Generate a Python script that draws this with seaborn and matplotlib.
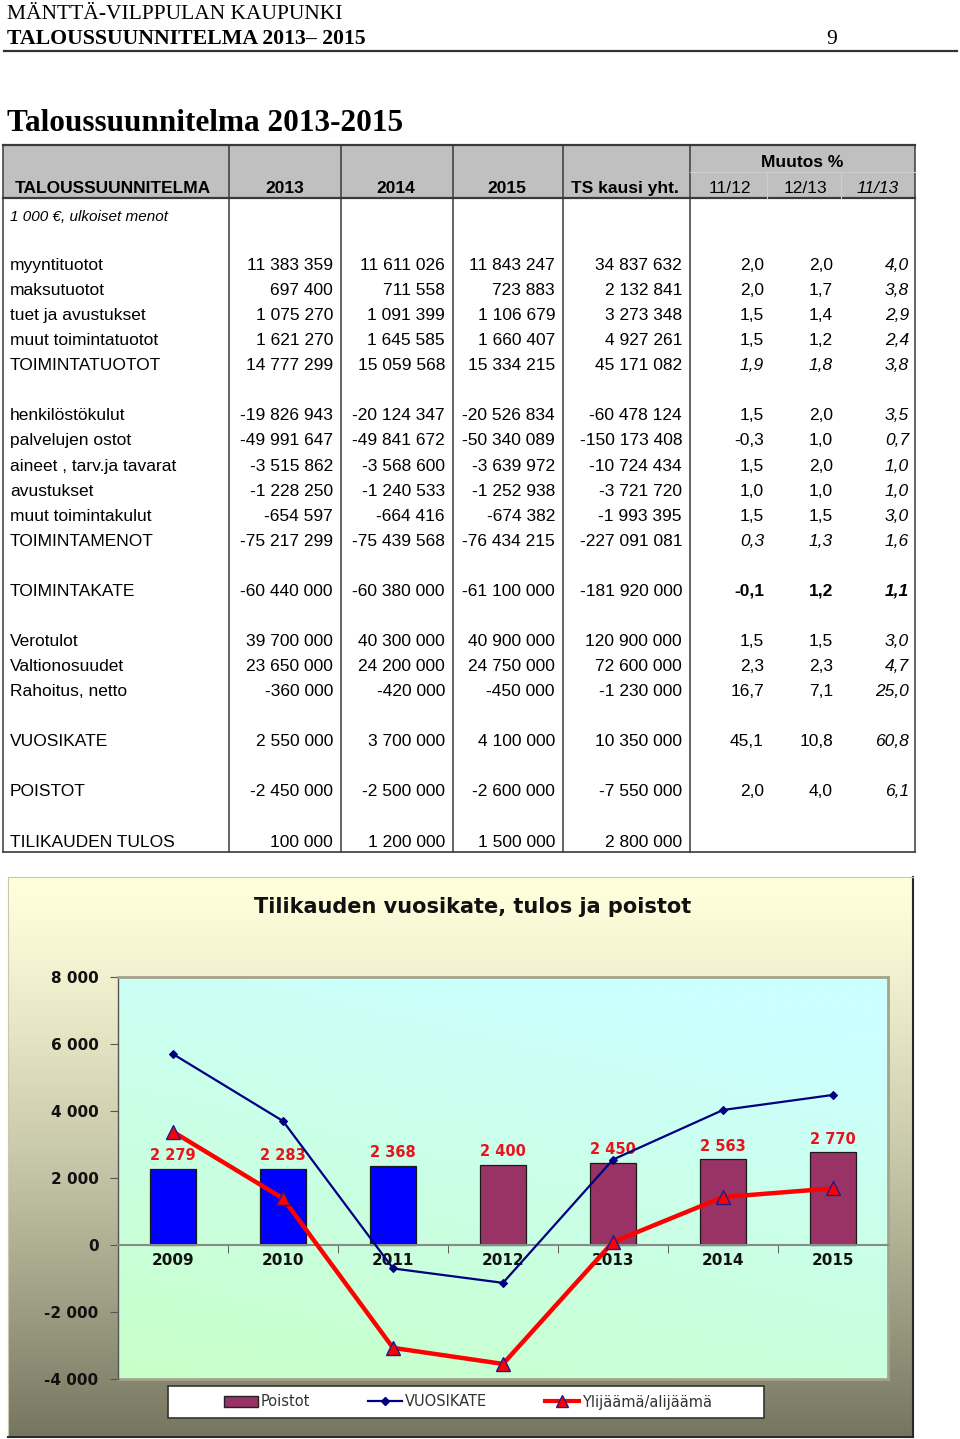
import numpy as np
import matplotlib
matplotlib.use("Agg")
import matplotlib.pyplot as plt
from matplotlib.lines import Line2D
from matplotlib.patches import Rectangle, Patch
import seaborn as sns

W, H = 960, 1439

# chart data (1 000 €)
years = ["2009", "2010", "2011", "2012", "2013", "2014", "2015"]
poistot = [2279, 2283, 2368, 2400, 2450, 2563, 2770]
vuosikate = [5700, 3700, -700, -1130, 2550, 4030, 4480]
tulos = [3380, 1390, -3070, -3550, 90, 1430, 1690]
y_ticks = [-4000, -2000, 0, 2000, 4000, 6000, 8000]
series_names = ["Poistot", "VUOSIKATE", "Ylijäämä/alijäämä"]

# table data, "" = empty row
row_labels = ["myyntituotot", "maksutuotot", "tuet ja avustukset", "muut toimintatuotot",
              "TOIMINTATUOTOT", "",
              "henkilöstökulut", "palvelujen ostot", "aineet , tarv.ja tavarat", "avustukset",
              "muut toimintakulut", "TOIMINTAMENOT", "",
              "TOIMINTAKATE", "",
              "Verotulot", "Valtionosuudet", "Rahoitus, netto", "",
              "VUOSIKATE", "", "POISTOT", "", "TILIKAUDEN TULOS"]
col_2013 = ["11 383 359", "697 400", "1 075 270", "1 621 270", "14 777 299", "",
            "-19 826 943", "-49 991 647", "-3 515 862", "-1 228 250", "-654 597", "-75 217 299", "",
            "-60 440 000", "", "39 700 000", "23 650 000", "-360 000", "",
            "2 550 000", "", "-2 450 000", "", "100 000"]
col_2014 = ["11 611 026", "711 558", "1 091 399", "1 645 585", "15 059 568", "",
            "-20 124 347", "-49 841 672", "-3 568 600", "-1 240 533", "-664 416", "-75 439 568", "",
            "-60 380 000", "", "40 300 000", "24 200 000", "-420 000", "",
            "3 700 000", "", "-2 500 000", "", "1 200 000"]
col_2015 = ["11 843 247", "723 883", "1 106 679", "1 660 407", "15 334 215", "",
            "-20 526 834", "-50 340 089", "-3 639 972", "-1 252 938", "-674 382", "-76 434 215", "",
            "-61 100 000", "", "40 900 000", "24 750 000", "-450 000", "",
            "4 100 000", "", "-2 600 000", "", "1 500 000"]
col_ts = ["34 837 632", "2 132 841", "3 273 348", "4 927 261", "45 171 082", "",
          "-60 478 124", "-150 173 408", "-10 724 434", "-3 721 720", "-1 993 395", "-227 091 081", "",
          "-181 920 000", "", "120 900 000", "72 600 000", "-1 230 000", "",
          "10 350 000", "", "-7 550 000", "", "2 800 000"]
chg_1112 = ["2,0", "2,0", "1,5", "1,5", "1,9", "",
            "1,5", "-0,3", "1,5", "1,0", "1,5", "0,3", "",
            "-0,1", "", "1,5", "2,3", "16,7", "", "45,1", "", "2,0", "", ""]
chg_1213 = ["2,0", "1,7", "1,4", "1,2", "1,8", "",
            "2,0", "1,0", "2,0", "1,0", "1,5", "1,3", "",
            "1,2", "", "1,5", "2,3", "7,1", "", "10,8", "", "4,0", "", ""]
chg_1113 = ["4,0", "3,8", "2,9", "2,4", "3,8", "",
            "3,5", "0,7", "1,0", "1,0", "3,0", "1,6", "",
            "1,1", "", "3,0", "4,7", "25,0", "", "60,8", "", "6,1", "", ""]
total_rows = ["TOIMINTATUOTOT", "TOIMINTAMENOT"]
bold_rows = ["TOIMINTAKATE"]

fig = plt.figure(figsize=(W / 100, H / 100), dpi=100)
fig.patch.set_facecolor("white")

SANS = "Liberation Sans"
SERIF = "Liberation Serif"


def put(x, y, s, **kw):
    fig.text(x / W, 1 - y / H, s, **kw)


def line(x0, y0, x1, y1, **kw):
    fig.add_artist(Line2D([x0 / W, x1 / W], [1 - y0 / H, 1 - y1 / H],
                          transform=fig.transFigure, **kw))


# page header
put(7, 19, "MÄNTTÄ-VILPPULAN KAUPUNKI", family=SERIF, fontsize=15.5, va="baseline")
put(7, 44, "TALOUSSUUNNITELMA 2013– 2015", family=SERIF, fontsize=15.7,
    fontweight="bold", va="baseline")
put(832, 44, "9", family=SERIF, fontsize=15.5, ha="center", va="baseline")
line(4, 51, 957, 51, color="#333333", lw=1.6)
put(7, 131, "Taloussuunnitelma 2013-2015", family=SERIF, fontsize=22.5,
    fontweight="bold", va="baseline")

# table frame
fig.add_artist(Rectangle((3 / W, 1 - 198 / H), 912 / W, 53 / H, transform=fig.transFigure,
                         facecolor="#c0c0c0", edgecolor="none"))
tc = "#3a3a3a"
line(3, 145, 915, 145, color=tc, lw=1.6)
line(3, 198, 915, 198, color=tc, lw=1.6)
line(3, 852, 915, 852, color=tc, lw=1.2)
for xv in [3, 229, 341, 453, 563, 690, 915]:
    line(xv, 145, xv, 852, color=tc, lw=1.1)
line(690, 172, 915, 172, color="#cdcdcd", lw=0.8)
for xv in [767, 841]:
    line(xv, 172, xv, 198, color="#cdcdcd", lw=0.8)

hk = dict(family=SANS, fontsize=12.5, va="baseline")
put(802, 167, "Muutos %", ha="center", fontweight="bold", **hk)
put(15, 193, "TALOUSSUUNNITELMA", ha="left", fontweight="bold", **hk)
for xc, s in [(285, "2013"), (396, "2014"), (507, "2015"), (625, "TS kausi yht.")]:
    put(xc, 193, s, ha="center", fontweight="bold", **hk)
put(730, 193, "11/12", ha="center", **hk)
put(805, 193, "12/13", ha="center", **hk)
put(878, 193, "11/13", ha="center", style="italic", **hk)
put(10, 221, "1 000 €, ulkoiset menot", family=SANS, fontsize=11, style="italic",
    va="baseline")

num_cols = [(333, col_2013), (445, col_2014), (555, col_2015), (682, col_ts),
            (764, chg_1112), (833, chg_1213), (909, chg_1113)]
for k, lab in enumerate(row_labels):
    if not lab:
        continue
    yb = 270 + 25.07 * k
    put(10, yb, lab, family=SANS, fontsize=12.5, va="baseline")
    for ci, (xr, col) in enumerate(num_cols):
        style, weight = "normal", "normal"
        if ci == 6 or (ci >= 4 and lab in total_rows):
            style = "italic"
        if ci >= 4 and lab in bold_rows:
            weight = "bold"
        put(xr, yb, col[k], family=SANS, fontsize=12.5, ha="right", va="baseline",
            style=style, fontweight=weight)

# chart panel with gradient
px0, py0, px1, py1 = 8, 877, 913, 1437
ax_panel = fig.add_axes([px0 / W, 1 - py1 / H, (px1 - px0) / W, (py1 - py0) / H], zorder=0)
t = np.linspace(0, 1, 200)[:, None] ** 1.3
top_c = np.array([255, 255, 220]) / 255
bot_c = np.array([118, 118, 96]) / 255
grad = (top_c * (1 - t) + bot_c * t)[:, None, :].repeat(2, axis=1)
ax_panel.imshow(grad, aspect="auto", extent=[0, 1, 0, 1], interpolation="bilinear")
ax_panel.set_xticks([])
ax_panel.set_yticks([])
for side in ["left", "top"]:
    ax_panel.spines[side].set_color("#c8c8b0")
for side in ["right", "bottom"]:
    ax_panel.spines[side].set_color("#2a2a2a")
    ax_panel.spines[side].set_linewidth(1.5)

rect_plot = [118 / W, 1 - 1379 / H, 770 / W, 402 / H]
ax_bg = fig.add_axes(rect_plot, zorder=1)
gy, gx = np.mgrid[0:1:100j, 0:1:100j]
tt = np.clip(0.8 * gy + 0.35 * gx, 0, 1)[..., None]
green = np.array([200, 255, 200]) / 255
cyan = np.array([204, 255, 255]) / 255
ax_bg.imshow(green * (1 - tt) + cyan * tt, aspect="auto", extent=[0, 1, 0, 1],
             origin="lower", interpolation="bilinear")
ax_bg.axis("off")

ax = fig.add_axes(rect_plot, zorder=2)
ax.set_facecolor("none")

bar_colors = {"2009": "#0000ff", "2010": "#0000ff", "2011": "#0000ff",
              "2012": "#993366", "2013": "#993366", "2014": "#993366", "2015": "#993366"}
sns.barplot(x=years, y=poistot, hue=years, palette=bar_colors, legend=False, width=0.41,
            edgecolor="#1a1a1a", linewidth=0.9, saturation=1, ax=ax, zorder=2)
for cont, v in zip(ax.containers, poistot):
    ax.bar_label(cont, labels=[f"{v:,}".replace(",", " ")], padding=4, color="#e8141c",
                 fontsize=10.5, fontweight="bold", family="DejaVu Sans")

sns.pointplot(x=years, y=vuosikate, color="#000080", markers="D", errorbar=None,
              linewidth=1.6, markersize=4.5, markeredgewidth=0.8, ax=ax, zorder=4)
sns.pointplot(x=years, y=tulos, color="#ff0000", markers="^", errorbar=None,
              linewidth=3.2, markersize=10, markeredgecolor="#1c1c8c",
              markeredgewidth=1.0, ax=ax, zorder=5)

ax.set_xlim(-0.5, 6.5)
ax.set_ylim(-4000, 8000)
ax.set_yticks(y_ticks)
ax.set_yticklabels([f"{v:,}".replace(",", " ") for v in y_ticks])
ax.set_xlabel("")
ax.set_ylabel("")
ax.spines["bottom"].set_position(("data", 0))
ax.spines["bottom"].set_color("#8a8a8a")
ax.spines["bottom"].set_linewidth(1.5)
ax.spines["left"].set_color("#555555")
ax.spines["left"].set_linewidth(1.0)
for side in ["top", "right"]:
    ax.spines[side].set_color("#a4a48c")
    ax.spines[side].set_linewidth(2)
ax.axhline(-4000, color="#a4a48c", lw=2, zorder=1, clip_on=False)
ax.set_xticks(np.arange(0.5, 6, 1), minor=True)
ax.tick_params(axis="x", which="major", length=0, pad=6)
ax.tick_params(axis="x", which="minor", length=6, direction="out", color="#444444")
ax.tick_params(axis="y", length=6, direction="out", color="#555555", pad=8)
for lab in ax.get_xticklabels() + ax.get_yticklabels():
    lab.set_fontweight("bold")
    lab.set_fontsize(11)
    lab.set_color("#111111")
    lab.set_family("DejaVu Sans")

put(473, 907, "Tilikauden vuosikate, tulos ja poistot", family="DejaVu Sans",
    fontsize=15, fontweight="bold", ha="center", va="center", color="#111111")

# legend
fig.add_artist(Rectangle((168 / W, 1 - 1418 / H), 596 / W, 32 / H, transform=fig.transFigure,
                         facecolor="white", edgecolor="#333333", lw=1.2, zorder=3))
handles = [Patch(facecolor="#993366", edgecolor="#222222"),
           Line2D([], [], color="#000080", marker="D", ms=4, lw=1.6),
           Line2D([], [], color="#ff0000", marker="^", ms=8, mec="#1c1c8c", lw=3)]
leg = fig.legend(handles, series_names, loc="center", bbox_to_anchor=(468 / W, 1 - 1402 / H),
                 ncol=3, frameon=False, fontsize=10.5, handlelength=2.3, handletextpad=0.2,
                 columnspacing=4)
leg.set_zorder(4)
for txt in leg.get_texts():
    txt.set_color("#333333")

fig.savefig("out.png", dpi=100)
